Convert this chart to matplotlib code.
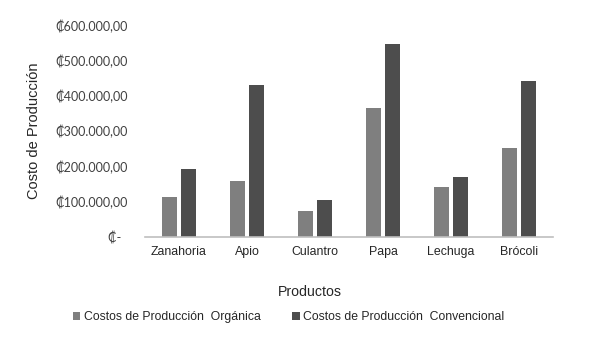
import matplotlib.pyplot as plt
import numpy as np

productos = ['Zanahoria', 'Apio', 'Culantro', 'Papa', 'Lechuga', 'Brócoli']
organica = [111600, 158600, 72800, 365000, 141600, 252000]
convencional = [191000, 429700, 103000, 546000, 169000, 440000]
yticks = [0, 100000, 200000, 300000, 400000, 500000, 600000]

def colones(v):
    if v == 0:
        return '₡-  '
    return '₡' + f'{v:,.2f}'.replace(',', 'X').replace('.', ',').replace('X', '.')

fig = plt.figure(figsize=(5.9, 3.38), dpi=100)
ax = fig.add_axes([0.2458, 0.2997, 0.6915, 0.6263])

x = np.arange(len(productos))
w = 0.22
ax.bar(x - 0.14, organica, w, color='#7f7f7f', label='Costos de Producción  Orgánica')
ax.bar(x + 0.14, convencional, w, color='#4d4d4d', label='Costos de Producción  Convencional')

ax.set_xlim(-0.5, len(productos) - 0.5)
ax.set_ylim(0, 600000)
ax.set_yticks(yticks)
ax.set_yticklabels([colones(v) for v in yticks], family=['Lato', 'DejaVu Sans'], fontsize=9, color='#404040')
ax.set_xticks(x)
ax.set_xticklabels(productos, family='Liberation Sans', fontsize=8.9, color='#262626')
ax.tick_params(length=0)
ax.tick_params(axis='y', pad=12.5)
ax.tick_params(axis='x', pad=7)

for s in ['top', 'right', 'left']:
    ax.spines[s].set_visible(False)
ax.spines['bottom'].set_color('#bfbfbf')
ax.spines['bottom'].set_linewidth(1.2)

ax.set_ylabel('Costo de Producción', family='Liberation Sans', fontsize=10.5, color='#262626')
ax.yaxis.set_label_coords(-0.255, 0.5)
fig.text(309.5 / 590, 1 - 292 / 338, 'Productos', family='Liberation Sans', fontsize=10.2, color='#262626', ha='center', va='center')

fig.legend(loc='center', bbox_to_anchor=(0.489, 0.062), ncol=2, frameon=False,
           prop={'family': 'Liberation Sans', 'size': 8.8}, handlelength=0.6, handleheight=0.6,
           handletextpad=0.3, columnspacing=2.6, labelcolor='#262626')

fig.savefig('out.png', dpi=100)
